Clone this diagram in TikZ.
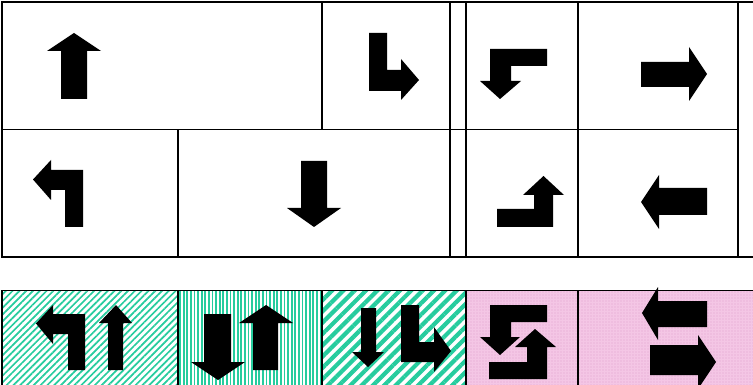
\documentclass[tikz,border=0pt]{standalone}
\usetikzlibrary{patterns.meta}
\definecolor{teal1}{RGB}{38,204,158}
\definecolor{pinkbg}{RGB}{244,198,229}
\definecolor{pinkdot}{RGB}{226,160,206}
\tikzset{
  gridline/.style={line width=1.5pt, black, line cap=rect},
  arrowshape/.style={fill=black},
  cellA/.style={fill=white, postaction={pattern={Lines[angle=45,distance=4.8pt,line width=1.7pt]}, pattern color=teal1}},
  cellB/.style={fill=white, postaction={pattern={Lines[angle=90,distance=3.6pt,line width=1.8pt]}, pattern color=teal1}},
  cellC/.style={fill=white, postaction={pattern={Lines[angle=45,distance=8pt,line width=4.2pt]}, pattern color=teal1}},
  cellP/.style={fill=pinkbg, postaction={pattern={Dots[distance=3pt,radius=0.7pt]}, pattern color=pinkdot}},
}
\begin{document}
\begin{tikzpicture}[x=1pt,y=-1pt]
\useasboundingbox (0,0) rectangle (753,385);
% bottom strip fills
\path[cellA] (2,290.5) rectangle (178,390);
\path[cellB] (178,290.5) rectangle (322,390);
\path[cellC] (322,290.5) rectangle (466,390);
\path[cellP] (466,290.5) rectangle (578,390);
\path[cellP] (578,290.5) rectangle (760,390);
% top grid lines
\draw[gridline] (2,2) -- (760,2);
\draw[gridline] (2,257) -- (760,257);
\draw[gridline] (2,2) -- (2,257);
\draw[gridline] (2,129.5) -- (738,129.5);
\draw[gridline] (322,2) -- (322,129.5);
\draw[gridline] (178,129.5) -- (178,257);
\foreach \xx in {450,466,578,738} \draw[gridline] (\xx,2) -- (\xx,257);
% bottom strip lines
\draw[gridline] (2,290.5) -- (760,290.5);
\draw[gridline] (2,290.5) -- (2,390);
\foreach \xx in {178,322,466,578} \draw[gridline] (\xx,290.5) -- (\xx,390);
% top grid arrows
\fill[arrowshape] (61,99) -- (61,51) -- (47,51) -- (74,33) -- (101,51) -- (87,51) -- (87,99) -- cycle;
\fill[arrowshape] (369,33) -- (387,33) -- (387,70) -- (401,70) -- (401,59) -- (419,80) -- (401,100) -- (401,91) -- (369,91) -- cycle;
\fill[arrowshape] (547,49) -- (547,66) -- (511,66) -- (511,81) -- (521,81) -- (500,99) -- (480,81) -- (490,81) -- (490,49) -- cycle;
\fill[arrowshape] (641,62) -- (689,62) -- (689,47) -- (707,74) -- (689,101) -- (689,87) -- (641,87) -- cycle;
\fill[arrowshape] (65,227) -- (65,190) -- (51,190) -- (51,200) -- (33,179.5) -- (51,160) -- (51,170) -- (83,170) -- (83,227) -- cycle;
\fill[arrowshape] (301,161) -- (327,161) -- (327,208) -- (341,208) -- (314,227) -- (287,208) -- (301,208) -- cycle;
\fill[arrowshape] (497,209) -- (534,209) -- (534,195) -- (523,195) -- (543.5,176) -- (564,195) -- (553,195) -- (553,227) -- (497,227) -- cycle;
\fill[arrowshape] (707,188) -- (707,215) -- (659,215) -- (659,229) -- (641,202) -- (659,175) -- (659,188) -- cycle;
% bottom strip arrows
\fill[arrowshape] (68,370) -- (68,334) -- (53,334) -- (53,344) -- (36,323.5) -- (53,305) -- (53,314) -- (85,314) -- (85,370) -- cycle;
\fill[arrowshape] (108,370) -- (108,323) -- (99,323) -- (116,305) -- (132,323) -- (123,323) -- (123,370) -- cycle;
\fill[arrowshape] (204,314) -- (231,314) -- (231,362) -- (245,362) -- (218,380) -- (191,362) -- (204,362) -- cycle;
\fill[arrowshape] (253,370) -- (253,323) -- (239,323) -- (266,305) -- (293,323) -- (278,323) -- (278,370) -- cycle;
\fill[arrowshape] (361,308) -- (376,308) -- (376,352) -- (384,352) -- (368,367) -- (352,352) -- (361,352) -- cycle;
\fill[arrowshape] (401,305) -- (419,305) -- (419,342) -- (434,342) -- (434,327) -- (451,351) -- (434,372) -- (434,362) -- (401,362) -- cycle;
\fill[arrowshape] (547,305) -- (547,322) -- (511,322) -- (511,337) -- (520,337) -- (500,355) -- (480,337) -- (490,337) -- (490,305) -- cycle;
\fill[arrowshape] (489,362) -- (527,362) -- (527,347) -- (515,347) -- (535,329) -- (556,347) -- (547,347) -- (547,379) -- (489,379) -- cycle;
\fill[arrowshape] (707,301) -- (707,327) -- (658,327) -- (658,340) -- (642,313) -- (658,287) -- (658,301) -- cycle;
\fill[arrowshape] (650,345) -- (698,345) -- (698,335) -- (716,362) -- (698,389) -- (698,375) -- (650,375) -- cycle;
\end{tikzpicture}
\end{document}
